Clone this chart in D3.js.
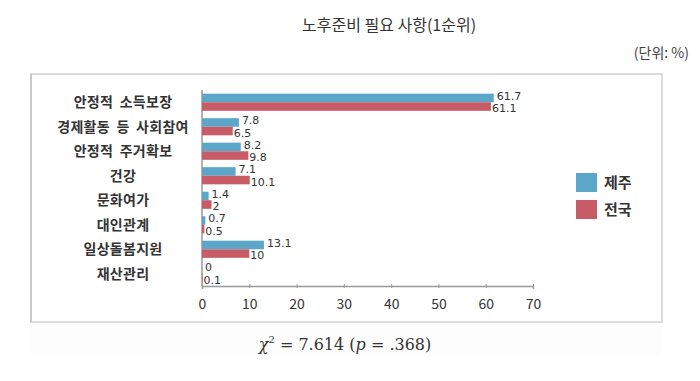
<!DOCTYPE html>
<html><head><meta charset="utf-8">
<script src="https://cdn.jsdelivr.net/npm/d3@7"></script>
<style>body{margin:0;background:#fff;}svg{display:block;}</style>
</head><body>
<svg id="c" width="700" height="381"></svg>
<script>
const categories = ["안정적 소득보장","경제활동 등 사회참여","안정적 주거확보","건강","문화여가","대인관계","일상돌봄지원","재산관리"];
const jeju = [61.7, 7.8, 8.2, 7.1, 1.4, 0.7, 13.1, 0];
const nation = [61.1, 6.5, 9.8, 10.1, 2, 0.5, 10, 0.1];
const seriesNames = ["제주","전국"];
const colors = ["#5ba6c9","#c75c66"];
const xTicks = [0,10,20,30,40,50,60,70];

const svg = d3.select("#c");
const font = "'Noto Sans CJK KR','Noto Sans',sans-serif";

// background box
svg.append("rect").attr("x",30).attr("y",322).attr("width",632).attr("height",34).attr("fill","#fdfdfd");
svg.append("rect").attr("x",31).attr("y",74).attr("width",631).attr("height",248)
  .attr("fill","#fff").attr("stroke","#dcdcdc").attr("stroke-width",2);
svg.append("line").attr("x1",31).attr("x2",31).attr("y1",74).attr("y2",322).attr("stroke","#c8c8c8").attr("stroke-width",2);

// title
svg.append("text").attr("x",302).attr("y",31).attr("font-family",font).attr("font-size",16)
  .attr("fill","#333").text("노후준비 필요 사항(1순위)");
svg.append("text").attr("x",689).attr("y",58).attr("text-anchor","end").attr("font-family",font).attr("font-size",14)
  .attr("fill","#444").text("(단위: %)");

const x = d3.scaleLinear().domain([0,70]).range([202,533]);
const y = d3.scaleBand().domain(categories).range([90,286]).paddingInner(0.3).paddingOuter(0.15);
const sub = d3.scaleBand().domain(seriesNames).range([0,y.bandwidth()]);

// x axis
const ax = svg.append("g").attr("transform","translate(0,286)")
  .call(d3.axisBottom(x).tickValues(xTicks).tickSize(3).tickPadding(10).tickFormat(d3.format("d")));
ax.select(".domain").attr("stroke","#999").attr("stroke-width",1.5);
ax.selectAll(".tick line").attr("stroke","#999").attr("y1",-2).attr("y2",2);
ax.selectAll(".tick text").attr("font-family",font).attr("font-size",14).attr("fill","#333");

// y axis line
svg.append("line").attr("x1",x(0)).attr("x2",x(0)).attr("y1",90).attr("y2",286).attr("stroke","#999").attr("stroke-width",1.5);

// category labels
svg.append("g").selectAll("text").data(categories).join("text")
  .attr("x",123).attr("y",d=>y(d)+y.bandwidth()/2).attr("dy","0.35em")
  .attr("text-anchor","middle").attr("font-family",font).attr("font-size",14).attr("font-weight","bold")
  .attr("letter-spacing",0.3).attr("word-spacing",3)
  .attr("fill","#333").text(d=>d);

const data = [jeju, nation];
data.forEach((vals,si)=>{
  const g = svg.append("g");
  g.selectAll("rect").data(vals).join("rect")
    .attr("x",x(0)).attr("y",(d,i)=>y(categories[i])+sub(seriesNames[si]))
    .attr("width",d=>x(d)-x(0)).attr("height",sub.bandwidth())
    .attr("fill",colors[si]);
  g.selectAll("text").data(vals).join("text")
    .attr("x",d=>x(d)+(si===0?3:1)).attr("y",(d,i)=>y(categories[i])+sub(seriesNames[si])+sub.bandwidth()/2 + (si===0?-2:2))
    .attr("dy","0.35em").attr("font-family","'DejaVu Sans',sans-serif").attr("font-size",11)
    .attr("fill","#333").text(d=>d);
});

// legend
const lg = svg.append("g");
seriesNames.forEach((s,i)=>{
  lg.append("rect").attr("x",576).attr("y",173+i*27).attr("width",21).attr("height",19).attr("fill",colors[i]);
  lg.append("text").attr("x",604).attr("y",183+i*27).attr("dy","0.35em").attr("font-family",font)
    .attr("font-size",15).attr("font-weight","bold").attr("fill","#333").text(s);
});

// chi-square
const t = svg.append("text").attr("x",345).attr("y",350).attr("text-anchor","middle")
  .attr("font-family","'DejaVu Serif','Liberation Serif',serif").attr("font-size",16).attr("fill","#333");
t.append("tspan").attr("font-style","italic").text("χ");
t.append("tspan").attr("font-size",10).attr("dy",-7).text("2");
t.append("tspan").attr("dy",7).text(" = 7.614 (");
t.append("tspan").attr("font-style","italic").text("p");
t.append("tspan").text(" = .368)");
</script>
</body></html>
